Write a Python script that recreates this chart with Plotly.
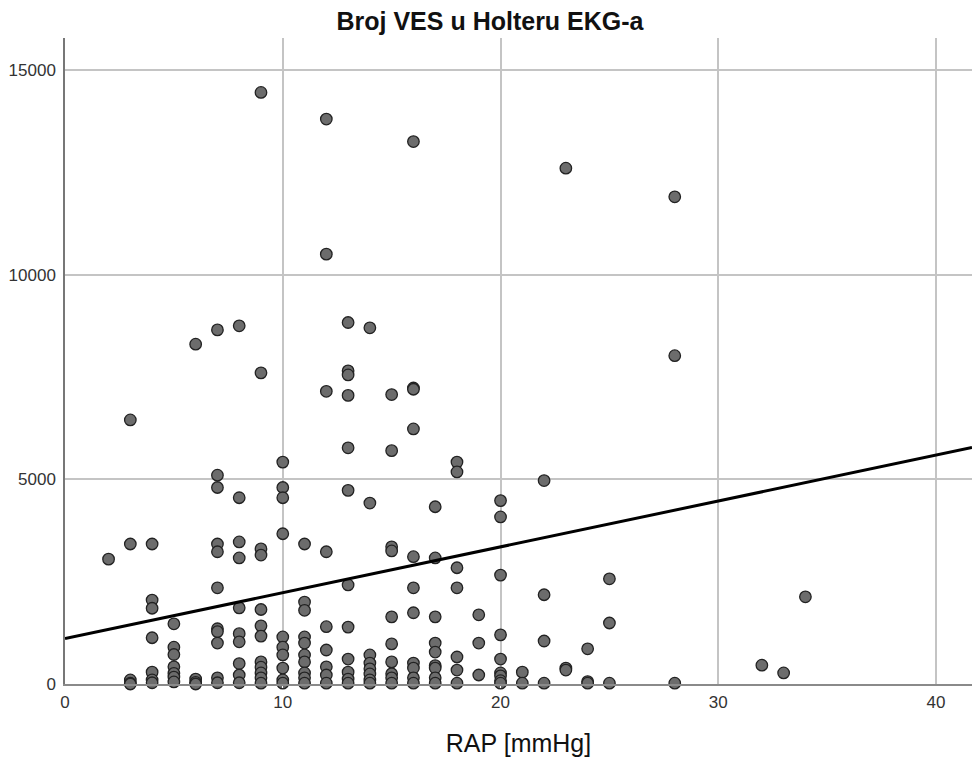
import plotly.graph_objects as go

# RAP [mmHg] -> VES counts, grouped by x value
rap_values = [2, 3, 4, 5, 6, 7, 8, 9, 10, 11, 12, 13, 14, 15, 16, 17, 18, 19, 20,
              21, 22, 23, 24, 25, 28, 32, 33, 34]
ves_by_rap = [
    [3050],
    [6450, 3420, 100, 20, 0],
    [3420, 2050, 1850, 1130, 290, 100, 30],
    [1470, 900, 720, 420, 260, 170, 50],
    [8300, 120, 40, 0],
    [8650, 5100, 4800, 3420, 3230, 2350, 1350, 1280, 1000, 150, 30],
    [8750, 4550, 3470, 3080, 1860, 1230, 1030, 500, 220, 30],
    [14450, 7600, 3300, 3150, 1820, 1420, 1170, 540, 410, 270, 150, 20],
    [5420, 4800, 4550, 3670, 1150, 900, 710, 390, 100, 20],
    [3420, 2000, 1800, 1150, 1000, 710, 540, 270, 150, 20],
    [13800, 10500, 7150, 3230, 1400, 830, 420, 220, 20],
    [8830, 7650, 7550, 7050, 5770, 4730, 2420, 1390, 610, 290, 120, 20],
    [8700, 4420, 710, 510, 370, 245, 100, 20],
    [7070, 5700, 3350, 3250, 1640, 980, 540, 250, 150, 20],
    [13250, 7230, 7200, 6230, 3110, 2350, 1740, 510, 390, 150, 20],
    [4330, 3080, 1640, 1000, 780, 450, 390, 150, 20],
    [5420, 5180, 2840, 2350, 660, 340, 20],
    [1690, 1000, 220],
    [4480, 4080, 2660, 1200, 610, 270, 200, 80, 20],
    [290, 20],
    [4970, 2180, 1050, 20],
    [12600, 390, 340],
    [860, 60, 20],
    [2570, 1490, 20],
    [11900, 8020, 20],
    [460],
    [270],
    [2130],
]

# fit line
fit_intercept = 1110
fit_slope = 112

x_range = [0, 41.65]
y_range = [0, 15780]

xs = [x for x, ys in zip(rap_values, ves_by_rap) for _ in ys]
ys = [y for group in ves_by_rap for y in group]
line_x = x_range
line_y = [fit_intercept + fit_slope * x for x in line_x]

W, H = 972, 765

fig = go.Figure()
fig.add_trace(go.Scatter(x=xs, y=ys, mode='markers',
                         marker=dict(size=11.5, color='#6c6c6c',
                                     line=dict(width=1.3, color='#222222')),
                         showlegend=False, cliponaxis=False))
fig.add_trace(go.Scatter(x=line_x, y=line_y, mode='lines',
                         line=dict(color='black', width=3), showlegend=False))

fig.update_layout(
    width=W, height=H,
    margin=dict(l=65, r=0, t=38, b=81),
    plot_bgcolor='white', paper_bgcolor='white',
    font=dict(family='Liberation Sans, Arial, sans-serif', color='#222222'),
    title=dict(text='<b>Broj VES u Holteru EKG-a</b>', x=490 / W, xanchor='center',
               y=1 - 21 / H, yanchor='middle', font=dict(size=25, color='#111111')),
)
fig.update_xaxes(range=x_range, tickvals=[0, 10, 20, 30, 40],
                 showgrid=True, gridcolor='#c4c4c4', gridwidth=1.6,
                 showline=True, linecolor='#8a8a8a', linewidth=2,
                 ticks='outside', ticklen=2, tickcolor='white',
                 tickfont=dict(size=17, color='#333333'), zeroline=False,
                 title=dict(text='RAP [mmHg]', font=dict(size=25, color='#111111'), standoff=23))
fig.update_yaxes(range=y_range, tickvals=[0, 5000, 10000, 15000],
                 ticktext=['0', '5000', '10000', '15000'],
                 showgrid=True, gridcolor='#c4c4c4', gridwidth=1.6,
                 showline=True, linecolor='#777777', linewidth=1.5,
                 ticks='outside', ticklen=4, tickcolor='white',
                 tickfont=dict(size=17, color='#333333'), zeroline=False)

# drop the default body margin so the figure fills the window exactly
fig.write_html("out.html", config={'displayModeBar': False},
               post_script="document.body.style.margin='0';")
